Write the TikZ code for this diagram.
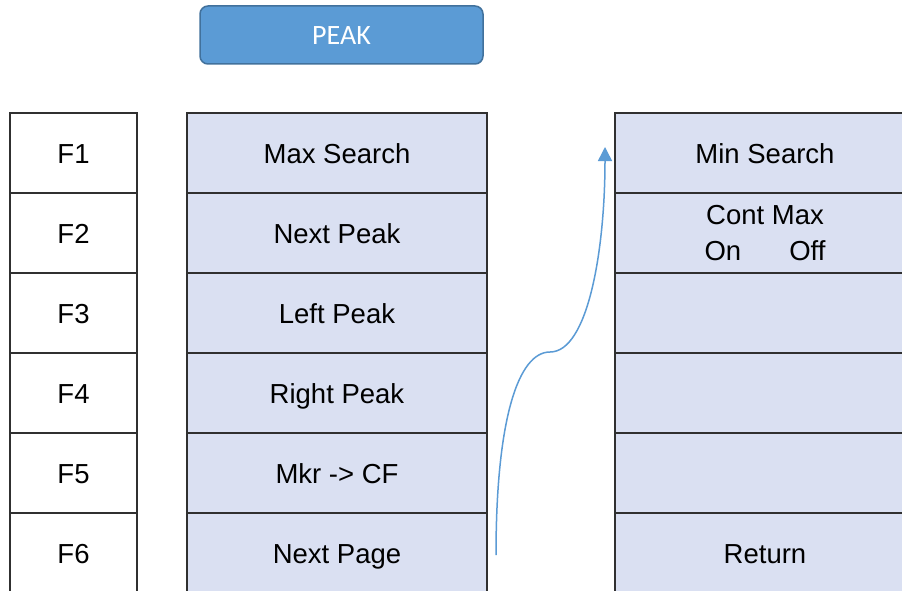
\documentclass[tikz,border=0pt]{standalone}
\usepackage{fontspec}
\setmainfont{Liberation Sans}
\newfontfamily\calibri{Carlito}
\usetikzlibrary{arrows.meta}
\definecolor{cellfill}{HTML}{DAE0F2}
\definecolor{btnfill}{HTML}{5B9BD5}
\definecolor{btnedge}{HTML}{41719C}
\definecolor{gridline}{HTML}{303030}
\definecolor{arrowblue}{HTML}{5B9BD5}
\tikzset{
  fkey/.style={draw=gridline, line width=1.3pt, fill=white, minimum width=127pt, minimum height=80pt, inner sep=0pt, text height=25pt, text depth=4pt, font=\fontsize{27.5}{30}\selectfont},
  softkey/.style={draw=gridline, line width=1.3pt, fill=cellfill, minimum width=300pt, minimum height=80pt, inner sep=0pt, text height=25pt, text depth=4pt, font=\fontsize{27.5}{30}\selectfont},
  twoline/.style={softkey, text height=, text depth=, align=center, font=\fontsize{27.5}{36}\selectfont},
  button/.style={draw=btnedge, line width=1.5pt, fill=btnfill, rounded corners=8pt, minimum width=283pt, minimum height=58pt, inner sep=0pt, text height=21pt, text depth=2pt, text=white, font=\calibri\fontsize{28}{30}\selectfont},
  flow/.style={draw=arrowblue, line width=1.5pt, -{Triangle[length=14pt,width=14pt]}}
}
\begin{document}
\begin{tikzpicture}[x=1pt,y=-1pt]
\useasboundingbox (0,0) rectangle (902,591);
\clip (0,0) rectangle (902,591);
\fill[white] (0,0) rectangle (902,591);
\node[button] (peak) at (341.5,35) {PEAK};
% F column
\node[fkey] (f1) at (73.5,153) {F1};
\node[fkey] (f2) at (73.5,233) {F2};
\node[fkey] (f3) at (73.5,313) {F3};
\node[fkey] (f4) at (73.5,393) {F4};
\node[fkey] (f5) at (73.5,473) {F5};
\node[fkey] (f6) at (73.5,553) {F6};
% middle column
\node[softkey] (m1) at (337,153) {Max Search};
\node[softkey] (m2) at (337,233) {Next Peak};
\node[softkey] (m3) at (337,313) {Left Peak};
\node[softkey] (m4) at (337,393) {Right Peak};
\node[softkey] (m5) at (337,473) {Mkr -> CF};
\node[softkey] (m6) at (337,553) {Next Page};
% right column
\node[softkey] (r1) at (765,153) {Min Search};
\node[twoline] (r2) at (765,233) {Cont Max\\On\hspace{48pt}Off};
\node[softkey] (r3) at (765,313) {};
\node[softkey] (r4) at (765,393) {};
\node[softkey] (r5) at (765,473) {};
\node[softkey] (r6) at (765,553) {Return};
% connector
\coordinate (cs) at (496,555);
\coordinate (cm) at (550,352);
\coordinate (ce) at (605,147);
\draw[flow] (cs) .. controls (496,420) and (518,352) .. (cm) .. controls (588,352) and (605,250) .. (ce);
\end{tikzpicture}
\end{document}
